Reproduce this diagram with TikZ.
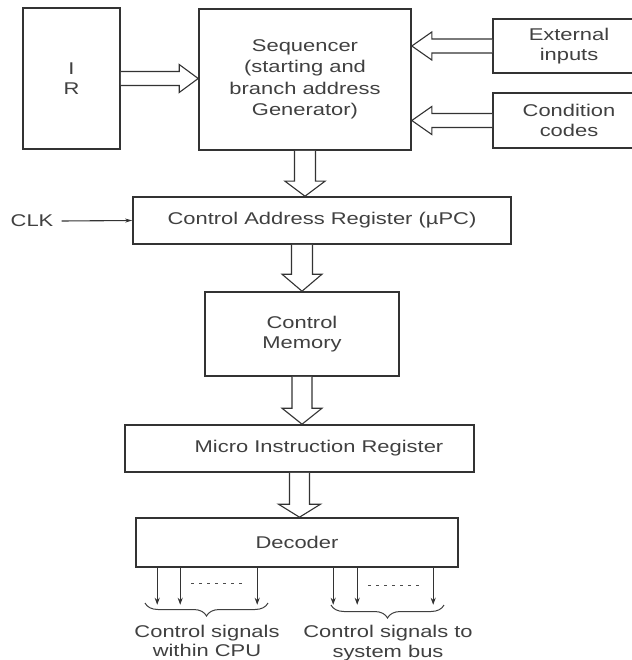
\documentclass[tikz,border=0pt]{standalone}
\usepackage{fontspec}
\setmainfont[FakeStretch=1.29]{Liberation Sans}
\usetikzlibrary{calc,arrows.meta,decorations.pathreplacing}
% vertical hollow arrow: source, target, half shaft, half head, head length (signed)
\newcommand\vhol[5]{\draw[hollow] let \p1=(#1), \p2=(#2) in
  (\x1-#3pt,\y1) -- (\x1-#3pt,\y2+#5pt) -- (\x1-#4pt,\y2+#5pt) -- (\x1,\y2)
  -- (\x1+#4pt,\y2+#5pt) -- (\x1+#3pt,\y2+#5pt) -- (\x1+#3pt,\y1);}
% horizontal hollow arrow
\newcommand\hhol[5]{\draw[hollow] let \p1=(#1), \p2=(#2) in
  (\x1,\y1-#3pt) -- (\x2+#5pt,\y1-#3pt) -- (\x2+#5pt,\y1-#4pt) -- (\x2,\y1)
  -- (\x2+#5pt,\y1+#4pt) -- (\x2+#5pt,\y1+#3pt) -- (\x1,\y1+#3pt);}
\begin{document}
\begin{tikzpicture}[x=1pt,y=-1pt,
  every node/.style={font=\fontsize{17}{19.5}\selectfont, text=black!75},
  box/.style={draw=black!80, line width=1.6pt, inner sep=0pt, align=center},
  hollow/.style={draw=black!80, line width=1.1pt, fill=white, line join=miter},
  sig/.style={draw=black!80, line width=1.1pt, -{Stealth[length=7pt,width=5pt]}},
  dots/.style={draw=black!70, line width=1pt, dash pattern=on 3pt off 5pt},
  brc/.style={draw=black!75, line width=1pt, decorate, decoration={brace, mirror, amplitude=13pt}},
  lbl/.style={align=center, inner sep=0pt}]
\useasboundingbox (0,0) rectangle (631,660);

\node[box, minimum width=97, minimum height=141] (ir) at (71.5,78.5) {I\\R};
\node[box, minimum width=212, minimum height=141, font=\fontsize{17}{21.5}\selectfont] (seq) at (305,79.5)
  {Sequencer\\(starting and\\branch address\\Generator)};
\node[box, minimum width=152, minimum height=54] (ext) at (569,46) {External\\inputs};
\node[box, minimum width=152, minimum height=55] (cond) at (569,120.5) {Condition\\codes};
\node[box, minimum width=378, minimum height=47] (car) at (322,220.5) {Control Address Register (\textmu PC)};
\node[box, minimum width=194, minimum height=84] (cm) at (302,334) {Control\\Memory};
\node[box, minimum width=349, minimum height=47] (mir) at (299.5,448.5) {};
\node[lbl] (mirt) at (319,448.5) {Micro Instruction Register};
\node[box, minimum width=322, minimum height=49] (dec) at (297,542.5) {Decoder};

\node[lbl] (clk) at (32,221) {CLK};
\draw[draw=black!80, line width=1.1pt, -{Stealth[length=7pt,width=4pt]}] (clk.east) ++(8,0) -- (car.west);

% hollow arrows
\hhol{ir.east}{seq.west}{7}{14}{-19}
\hhol{ext.west}{seq.east}{7}{14}{20}
\hhol{cond.west}{seq.east}{7}{14}{20}
\vhol{seq.south}{seq.south |- car.north}{10.5}{20}{15}
\vhol{cm.north |- car.south}{cm.north}{10.5}{20}{17}
\vhol{cm.south}{mir.north}{10}{20}{16}
\vhol{mir.south}{mir.south |- dec.north}{10}{21}{13}

% decoder outputs
\foreach \dx in {22,45,122,198,222,298}
  \draw[sig] ($(dec.south west)+(\dx,0)$) -- ++(0,37);
\draw[dots] ($(dec.south west)+(56,16)$) -- ++(52,0);
\draw[dots] ($(dec.south west)+(233,18)$) -- ++(52,0);

\coordinate (b1l) at (145,603);
\coordinate (b1r) at (268,603);
\coordinate (b2l) at (331,605);
\coordinate (b2r) at (444,605);
\draw[brc] (b1l) -- (b1r);
\draw[brc] (b2l) -- (b2r);

\node[lbl] (lab1) at (207,641) {Control signals\\within CPU};
\node[lbl] (lab2) at (388,643) {Control signals to\\system bus};
\end{tikzpicture}
\end{document}
